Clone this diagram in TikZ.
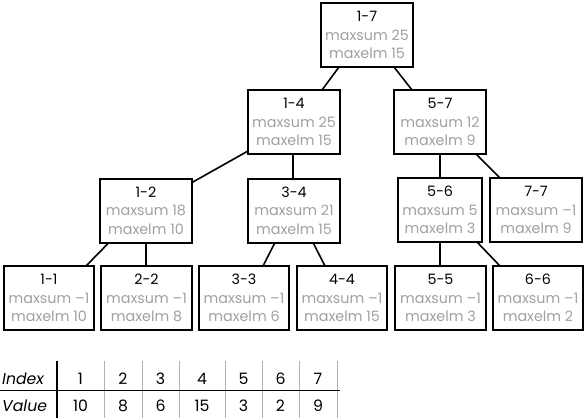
\documentclass[tikz,border=0pt]{standalone}
\usepackage{fontspec}
\setmainfont{Poppins}
\usetikzlibrary{calc}
\definecolor{gry}{HTML}{A0A0A0}
\definecolor{lgry}{HTML}{B0B0B0}
\begin{document}
\begin{tikzpicture}[x=1pt,y=-1pt,
  box/.style={draw=black, line width=2pt, minimum width=92pt, minimum height=64pt,
    inner sep=0pt, outer sep=0pt, align=center, font=\fontsize{14.3}{18.5}\selectfont},
  edge/.style={line width=1.6pt},
  tab/.style={font=\fontsize{15.7}{18}\selectfont, inner sep=0pt, anchor=base},
  sep/.style={draw=lgry, line width=0.9pt}]
\useasboundingbox (0,0) rectangle (585,418);
\newcommand{\bx}[3]{#1\\\textcolor{gry}{maxsum #2}\\\textcolor{gry}{maxelm #3}}
% tree nodes
\node[box] (n17) at (367,35) {\bx{1-7}{25}{15}};
\node[box] (n14) at (294,122) {\bx{1-4}{25}{15}};
\node[box] (n57) at (440,122) {\bx{5-7}{12}{9}};
\node[box] (n12) at (146,210.5) {\bx{1-2}{18}{10}};
\node[box] (n34) at (294,210.5) {\bx{3-4}{21}{15}};
\node[box, minimum width=84pt] (n56) at (440,210) {\bx{5-6}{5}{3}};
\node[box] (n77) at (536,210) {\bx{7-7}{–1}{9}};
\node[box, minimum width=90pt] (n11) at (49,298) {\bx{1-1}{–1}{10}};
\node[box, minimum width=91pt] (n22) at (146.5,298) {\bx{2-2}{–1}{8}};
\node[box, minimum width=90pt] (n33) at (244,298) {\bx{3-3}{–1}{6}};
\node[box, minimum width=90pt] (n44) at (342,298) {\bx{4-4}{–1}{15}};
\node[box, minimum width=91pt] (n55) at (440.5,298) {\bx{5-5}{–1}{3}};
\node[box, minimum width=90pt] (n66) at (538,298) {\bx{6-6}{–1}{2}};
% connectors
\draw[edge] ($(n17.south)+(-28,0)$) -- ($(n14.north)+(28,0)$);
\draw[edge] ($(n17.south)+(27,0)$) -- ($(n57.north)+(-28,0)$);
\draw[edge] ($(n14.south west)+(0,-3)$) -- ($(n12.north east)+(0,4)$);
\draw[edge] ($(n14.south)+(-1,0)$) -- ($(n34.north)+(-1,0)$);
\draw[edge] (n57.south) -- (n56.north);
\draw[edge] ($(n57.south)+(36,0)$) -- ($(n77.north)+(-36,0)$);
\draw[edge] ($(n12.south)+(-37,0)$) -- ($(n11.north)+(37,0)$);
\draw[edge] (n12.south) -- ($(n22.north)+(-0.5,0)$);
\draw[edge] ($(n34.south)+(-19,0)$) -- ($(n33.north)+(19,0)$);
\draw[edge] ($(n34.south)+(19,0)$) -- ($(n44.north)+(-17,0)$);
\draw[edge] (n56.south) -- ($(n55.north)+(-0.5,0)$);
\draw[edge] ($(n56.south)+(37,0)$) -- ($(n66.north)+(-38,0)$);
% table
\node[tab, anchor=base west] (idx) at (2,384) {\itshape Index};
\node[tab, anchor=base west] (val) at (2,411) {\itshape Value};
\foreach \c/\i/\v [count=\k] in {80.5/1/10, 123/2/8, 160.5/3/6, 202/4/15, 243.5/5/3, 280.5/6/2, 318/7/9}{
  \node[tab] (i\k) at (\c,384) {\i};
  \node[tab] (v\k) at (\c,411) {\v};
}
\foreach \x in {104,142,179,225,262,299,337}{
  \draw[sep] (\x,361) -- (\x,418);
}
\draw[line width=0.9pt] (0,390) -- (340,390);
\draw[line width=2pt] (57,361) -- (57,418);
\end{tikzpicture}
\end{document}
